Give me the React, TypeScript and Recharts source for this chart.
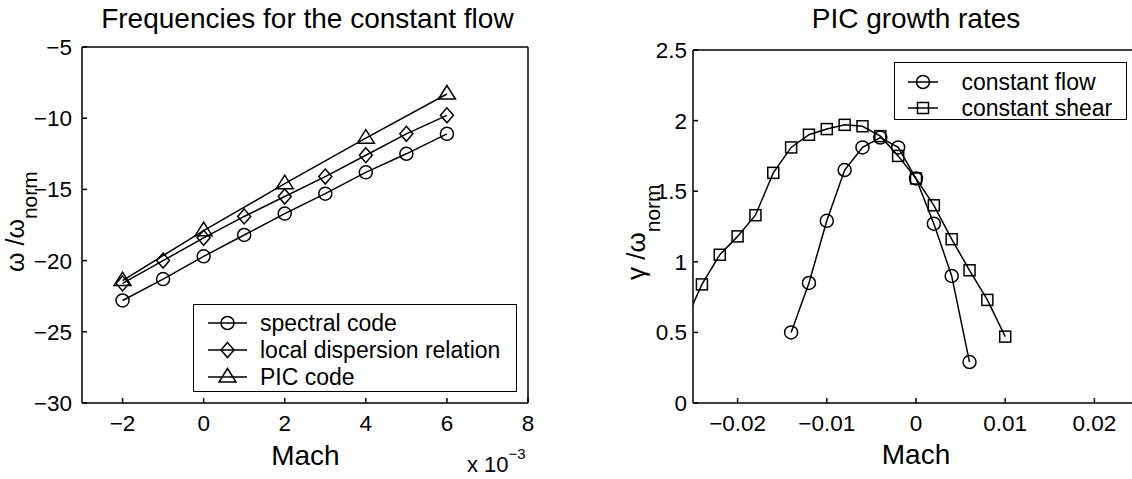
import React from 'react';
import { LineChart, Line, XAxis, YAxis, Legend } from 'recharts';

// ---------- Left panel: Frequencies for the constant flow ----------
const machLeft = [-2, -1, 0, 1, 2, 3, 4, 5, 6]; // x 10^-3
const spectralCode = [-22.8, -21.3, -19.7, -18.2, -16.7, -15.3, -13.8, -12.5, -11.1];
const localDispersion = [-21.6, -20.0, -18.4, -16.9, -15.5, -14.1, -12.6, -11.1, -9.8];
const picCode = [-21.4, null, -17.9, null, -14.6, null, -11.4, null, -8.3];
const leftXTicks = [-2, 0, 2, 4, 6, 8];
const leftYTicks = [-30, -25, -20, -15, -10, -5];

// ---------- Right panel: PIC growth rates ----------
const flowMach = [-0.014, -0.012, -0.01, -0.008, -0.006, -0.004, -0.002, 0, 0.002, 0.004, 0.006];
const flowGamma = [0.5, 0.85, 1.29, 1.65, 1.81, 1.88, 1.81, 1.59, 1.27, 0.9, 0.29];
const shearMach = [
  -0.026, -0.024, -0.022, -0.02, -0.018, -0.016, -0.014, -0.012, -0.01, -0.008,
  -0.006, -0.004, -0.002, 0, 0.002, 0.004, 0.006, 0.008, 0.01,
];
const shearGamma = [
  0.56, 0.84, 1.05, 1.18, 1.33, 1.63, 1.81, 1.9, 1.94, 1.97,
  1.96, 1.89, 1.75, 1.59, 1.4, 1.16, 0.94, 0.73, 0.47,
];
const rightXTicks = [-0.02, -0.01, 0, 0.01, 0.02];
const rightYTicks = [0, 0.5, 1, 1.5, 2, 2.5];

const leftData = machLeft.map((m, i) => ({
  mach: m,
  spectral: spectralCode[i],
  local: localDispersion[i],
  pic: picCode[i],
}));
const flowData = flowMach.map((m, i) => ({ mach: m, flow: flowGamma[i] }));
const shearData = shearMach.map((m, i) => ({ mach: m, shear: shearGamma[i] }));

const FONT = '"Liberation Sans", Arial, Helvetica, sans-serif';
const INK = '#000';

type Shape = 'circle' | 'diamond' | 'triangle' | 'square';
const shapeOf: Record<string, Shape> = {
  spectral: 'circle',
  local: 'diamond',
  pic: 'triangle',
  flow: 'circle',
  shear: 'square',
};
const legendOrder = ['spectral', 'local', 'pic', 'flow', 'shear'];

function Marker({ shape, cx, cy }: { shape: Shape; cx: number; cy: number }) {
  const common = { fill: 'none', stroke: INK, strokeWidth: 1.5 };
  if (shape === 'circle') return <circle cx={cx} cy={cy} r={6.5} {...common} />;
  if (shape === 'diamond')
    return (
      <polygon
        points={`${cx},${cy - 7.5} ${cx + 6.5},${cy} ${cx},${cy + 7.5} ${cx - 6.5},${cy}`}
        {...common}
      />
    );
  if (shape === 'triangle')
    return (
      <polygon
        points={`${cx},${cy - 8.5} ${cx + 8.5},${cy + 5} ${cx - 8.5},${cy + 5}`}
        {...common}
      />
    );
  return <rect x={cx - 5.5} y={cy - 5.5} width={11} height={11} {...common} />;
}

const dotFor = (shape: Shape) => (props: any) => {
  const { cx, cy, index, value } = props;
  const k = `${shape}-${index}`;
  if (cx == null || cy == null || value == null || (Array.isArray(value) && value[1] == null))
    return <g key={k} />;
  return (
    <g key={k}>
      <Marker shape={shape} cx={cx} cy={cy} />
    </g>
  );
};

const fmt = (v: number) => String(v).replace('-', '\u2212');

function makeLegend(rowCenters: number[], lineX: [number, number], textX: number, fontSize: number) {
  return (props: any) => {
    const payload = [...(props.payload || [])].sort(
      (a: any, b: any) => legendOrder.indexOf(String(a.dataKey)) - legendOrder.indexOf(String(b.dataKey))
    );
    return (
      <div
        style={{
          position: 'relative',
          width: '100%',
          height: '100%',
          boxSizing: 'border-box',
          border: `1.5px solid ${INK}`,
          background: '#fff',
          fontFamily: FONT,
        }}
      >
        {payload.map((p: any, i: number) => {
          const key = String(p.dataKey);
          const shape = shapeOf[key] || 'circle';
          const top = rowCenters[i] - 14;
          return (
            <div key={key} style={{ position: 'absolute', left: 0, top, height: 28, width: '100%' }}>
              <svg width={lineX[1] + 4} height={28} style={{ position: 'absolute', left: 0, top: 0 }}>
                <line x1={lineX[0]} x2={lineX[1]} y1={14} y2={14} stroke={INK} strokeWidth={1.5} />
                <Marker shape={shape} cx={(lineX[0] + lineX[1]) / 2} cy={14} />
              </svg>
              <span
                style={{
                  position: 'absolute',
                  left: textX,
                  top: 0,
                  height: 28,
                  lineHeight: '28px',
                  fontSize,
                  color: INK,
                  whiteSpace: 'nowrap',
                }}
              >
                {p.value}
              </span>
            </div>
          );
        })}
      </div>
    );
  };
}

const tickStyle = { fill: INK, fontSize: 22.5, fontFamily: FONT };
const axisLineStyle = { stroke: INK, strokeWidth: 1.5 };

export default function App() {
  return (
    <div
      style={{
        position: 'fixed',
        left: 0,
        top: 0,
        width: 1132,
        height: 479,
        overflow: 'hidden',
        background: '#fff',
      }}
    >
      <div style={{ position: 'absolute', left: 0, top: 0 }}>
        <LineChart width={560} height={479} data={leftData} margin={{ top: 46, right: 31, bottom: 36, left: 0 }}>
          <XAxis
            xAxisId="b"
            dataKey="mach"
            type="number"
            domain={[-3, 8]}
            allowDataOverflow
            ticks={leftXTicks}
            interval={0}
            tickFormatter={fmt}
            tick={tickStyle}
            tickSize={-5}
            tickMargin={17}
            height={40}
            axisLine={axisLineStyle}
            tickLine={axisLineStyle}
          />
          <XAxis
            xAxisId="t"
            orientation="top"
            dataKey="mach"
            type="number"
            domain={[-3, 8]}
            allowDataOverflow
            ticks={leftXTicks}
            interval={0}
            tick={false}
            tickSize={-5}
            height={1}
            axisLine={axisLineStyle}
            tickLine={axisLineStyle}
          />
          <YAxis
            yAxisId="l"
            type="number"
            domain={[-30, -5]}
            allowDataOverflow
            ticks={leftYTicks}
            interval={0}
            tickFormatter={fmt}
            tick={tickStyle}
            tickSize={-5}
            tickMargin={15}
            width={82}
            axisLine={axisLineStyle}
            tickLine={axisLineStyle}
          />
          <YAxis
            yAxisId="r"
            orientation="right"
            type="number"
            domain={[-30, -5]}
            allowDataOverflow
            ticks={leftYTicks}
            interval={0}
            tick={false}
            tickSize={-5}
            width={1}
            axisLine={axisLineStyle}
            tickLine={axisLineStyle}
          />
          <Line
            xAxisId="b"
            yAxisId="l"
            dataKey="spectral"
            name="spectral code"
            stroke={INK}
            strokeWidth={1.5}
            dot={dotFor('circle')}
            isAnimationActive={false}
          />
          <Line
            xAxisId="b"
            yAxisId="l"
            dataKey="local"
            name="local dispersion relation"
            stroke={INK}
            strokeWidth={1.5}
            dot={dotFor('diamond')}
            isAnimationActive={false}
          />
          <Line
            xAxisId="b"
            yAxisId="l"
            dataKey="pic"
            name="PIC code"
            stroke={INK}
            strokeWidth={1.5}
            connectNulls
            dot={dotFor('triangle')}
            isAnimationActive={false}
          />
          <Legend
            layout="vertical"
            align="center"
            verticalAlign="middle"
            content={makeLegend([18.5, 45.5, 72], [14, 53], 66, 23)}
            wrapperStyle={{ position: 'absolute', left: 193, top: 303.5, width: 324, height: 88 }}
          />
        </LineChart>
      </div>

      <div style={{ position: 'absolute', left: 570, top: 0 }}>
        <LineChart width={580} height={479} margin={{ top: 49, right: 10, bottom: 36, left: 0 }}>
          <XAxis
            xAxisId="b"
            dataKey="mach"
            type="number"
            domain={[-0.025, 0.025]}
            allowDataOverflow
            ticks={rightXTicks}
            interval={0}
            tickFormatter={fmt}
            tick={tickStyle}
            tickSize={-5}
            tickMargin={17}
            height={40}
            axisLine={axisLineStyle}
            tickLine={axisLineStyle}
          />
          <XAxis
            xAxisId="t"
            orientation="top"
            dataKey="mach"
            type="number"
            domain={[-0.025, 0.025]}
            allowDataOverflow
            ticks={rightXTicks}
            interval={0}
            tick={false}
            tickSize={-5}
            height={1}
            axisLine={axisLineStyle}
            tickLine={axisLineStyle}
          />
          <YAxis
            yAxisId="l"
            type="number"
            domain={[0, 2.5]}
            allowDataOverflow
            ticks={rightYTicks}
            interval={0}
            tick={tickStyle}
            tickSize={-5}
            tickMargin={11}
            width={123}
            axisLine={axisLineStyle}
            tickLine={axisLineStyle}
          />
          <YAxis
            yAxisId="r"
            orientation="right"
            type="number"
            domain={[0, 2.5]}
            allowDataOverflow
            ticks={rightYTicks}
            interval={0}
            tick={false}
            tickSize={-5}
            width={1}
            axisLine={axisLineStyle}
            tickLine={axisLineStyle}
          />
          <Line
            xAxisId="b"
            yAxisId="l"
            data={flowData}
            dataKey="flow"
            name="constant flow"
            stroke={INK}
            strokeWidth={1.5}
            dot={dotFor('circle')}
            isAnimationActive={false}
          />
          <Line
            xAxisId="b"
            yAxisId="l"
            data={shearData}
            dataKey="shear"
            name="constant shear"
            stroke={INK}
            strokeWidth={1.5}
            dot={dotFor('square')}
            isAnimationActive={false}
          />
          <Legend
            layout="vertical"
            align="center"
            verticalAlign="middle"
            content={makeLegend([19.6, 45.3], [13, 43], 66, 23)}
            wrapperStyle={{ position: 'absolute', left: 324.4, top: 61.7, width: 233, height: 58.5 }}
          />
        </LineChart>
      </div>

      <svg
        width={1132}
        height={479}
        style={{ position: 'absolute', left: 0, top: 0, pointerEvents: 'none' }}
        fontFamily={FONT}
        fill={INK}
      >
        <text x={307.4} y={28.3} fontSize={28} textAnchor="middle">
          Frequencies for the constant flow
        </text>
        <text x={916} y={28.3} fontSize={28} textAnchor="middle">
          PIC growth rates
        </text>
        <text x={305.4} y={465} fontSize={28} textAnchor="middle">
          Mach
        </text>
        <text x={916} y={464} fontSize={28} textAnchor="middle">
          Mach
        </text>
        <text x={467} y={472} fontSize={22}>
          <tspan>x 10</tspan>
          <tspan fontSize={15} dy={-13}>
            {'\u22123'}
          </tspan>
        </text>
        <text x={23.5} y={272} fontSize={25} transform="rotate(-90 23.5 272)">
          <tspan>ω /ω</tspan>
          <tspan fontSize={21} dy={13}>
            norm
          </tspan>
        </text>
        <text x={645} y={280} fontSize={26} transform="rotate(-90 645 280)">
          <tspan>γ /ω</tspan>
          <tspan fontSize={21} dy={15}>
            norm
          </tspan>
        </text>
      </svg>
    </div>
  );
}
